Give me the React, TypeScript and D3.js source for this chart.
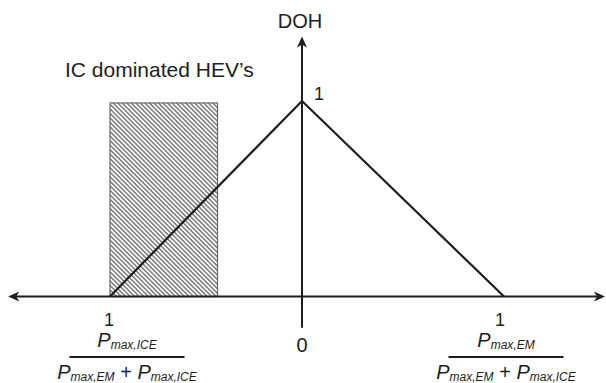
import React from 'react';
import * as d3 from 'd3';

// DOH curve: degree of hybridization vs. power share
const dohX = [-1, 0, 1];
const dohY = [0, 1, 0];

// axis extent in data units
const xExtent = [-1.53, 1.5];
const yExtent = [-0.16, 1.33];

// shaded band: IC dominated HEV's
const bandX = [-1, -0.44];
const bandY = [0, 0.99];

const bandLabel = 'IC dominated HEV\u2019s';
const yLabel = 'DOH';
const peakLabel = '1';
const originLabel = '0';
const leftSub = 'max,ICE';
const rightSub = 'max,EM';

const W = 606;
const H = 383;
const font = '"Liberation Sans", Arial, Helvetica, sans-serif';
const ink = '#1e1e1e';

function Fraction({ oneX, cx, top, sub }) {
  // stacked label "1" over P / (P + P)
  return (
    <g fontFamily={font} fill={ink}>
      <text x={oneX} y={top + 13} fontSize={18} textAnchor="middle">1</text>
      <text x={cx} y={top + 34} textAnchor="middle" fontStyle="italic">
        <tspan fontSize={20}>P</tspan>
        <tspan fontSize={12} dy={2}>{sub}</tspan>
      </text>
      <line x1={cx - 57.5} x2={cx + 57.5} y1={top + 44} y2={top + 44} stroke={ink} strokeWidth={2} />
      <text x={cx} y={top + 66} textAnchor="middle" fontStyle="italic">
        <tspan fontSize={20}>P</tspan>
        <tspan fontSize={12} dy={2}>max,EM</tspan>
        <tspan fontSize={20} dy={-2} fontStyle="normal"> + </tspan>
        <tspan fontSize={20}>P</tspan>
        <tspan fontSize={12} dy={2}>max,ICE</tspan>
      </text>
    </g>
  );
}

export default function App() {
  const x = d3.scaleLinear().domain([-1, 0, 1]).range([110, 302, 504]);
  const y = d3.scaleLinear().domain([0, 1]).range([296.5, 101]);

  const pts = dohX.map((v, i) => [x(v), y(dohY[i])]);
  const line = d3.line();

  const x0 = x(0);
  const yBase = y(0);
  const xl = x(xExtent[0]);
  const xr = x(xExtent[1]);
  const yt = y(yExtent[1]);
  const yb = y(yExtent[0]);

  const arrow = (tx, ty, dx, dy) => {
    // tip at (tx,ty), pointing along (dx,dy)
    const px = -dy, py = dx;
    const L = 11, w = 5, back = 8;
    return `M${tx},${ty} L${tx - dx * L + px * w},${ty - dy * L + py * w} L${tx - dx * back},${ty - dy * back} L${tx - dx * L - px * w},${ty - dy * L - py * w} Z`;
  };

  return (
    <>
      <style>{`body{margin:0;background:#fff}`}</style>
      <svg width={W} height={H} style={{ display: 'block' }}>
        <defs>
          <pattern id="hatch" patternUnits="userSpaceOnUse" width={3.2} height={3.2} patternTransform="rotate(-45)">
            <rect width={3.2} height={3.2} fill="#fff" />
            <line x1={0.8} x2={0.8} y1={0} y2={3.2} stroke="#4a4a4a" strokeWidth={1.1} />
          </pattern>
        </defs>

        {/* shaded band */}
        <rect
          x={x(bandX[0])}
          y={y(bandY[1])}
          width={x(bandX[1]) - x(bandX[0])}
          height={y(bandY[0]) - y(bandY[1])}
          fill="url(#hatch)"
          stroke="#6a6a6a"
          strokeWidth={1.2}
        />

        {/* axes */}
        <line x1={xl + 4} x2={xr - 4} y1={yBase} y2={yBase} stroke={ink} strokeWidth={2} />
        <path d={arrow(xl, yBase, -1, 0)} fill={ink} />
        <path d={arrow(xr, yBase, 1, 0)} fill={ink} />
        <line x1={x0} x2={x0} y1={yt + 4} y2={yb} stroke={ink} strokeWidth={2} />
        <path d={arrow(x0, yt, 0, -1)} fill={ink} />

        {/* DOH curve */}
        <path d={line(pts)} fill="none" stroke={ink} strokeWidth={2.2} strokeLinejoin="miter" />

        {/* labels */}
        <g fontFamily={font} fill={ink}>
          <text x={x0 - 2} y={28} fontSize={20} textAnchor="middle">{yLabel}</text>
          <text x={x0 + 12} y={100} fontSize={18}>{peakLabel}</text>
          <text x={65} y={77} fontSize={21}>{bandLabel}</text>
          <text x={x0} y={352} fontSize={20} textAnchor="middle">{originLabel}</text>
        </g>

        <Fraction oneX={x(dohX[0]) - 1} cx={127} top={313} sub={leftSub} />
        <Fraction oneX={x(dohX[2]) - 4} cx={506} top={313} sub={rightSub} />
      </svg>
    </>
  );
}
